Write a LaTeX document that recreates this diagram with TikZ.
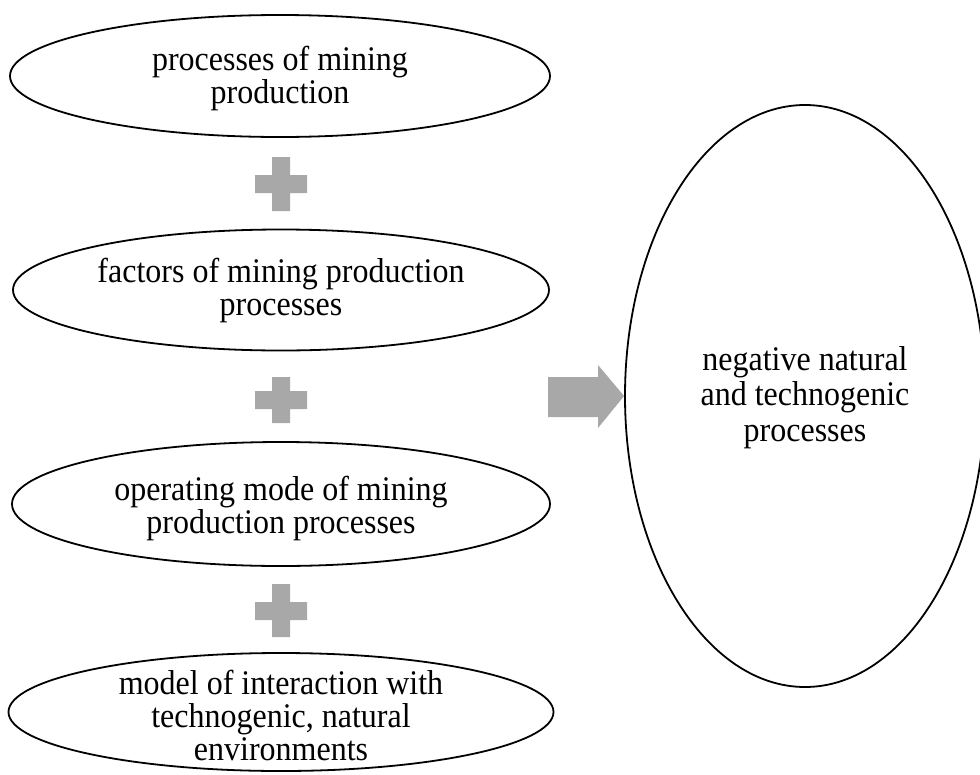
\documentclass[tikz,border=0pt]{standalone}
\usepackage{fontspec}
\usepackage{graphicx}
\setmainfont{Liberation Serif}
\usetikzlibrary{shapes.geometric}
\definecolor{plusgray}{RGB}{168,168,168}
\newcommand\mylines[1]{\scalebox{1}[1.08]{\vtop{\lineskiplimit=-100pt\halign{\hfil##\hfil\cr#1\crcr}}}}
\begin{document}
\begin{tikzpicture}[x=1pt,y=-1pt,
  oval/.style={draw, ellipse, line width=1.8pt, inner sep=0pt},
  lbl/.style={anchor=base, inner sep=0pt, font=\fontsize{32}{31}\selectfont},
  biglbl/.style={anchor=base, inner sep=0pt, font=\fontsize{32}{33}\selectfont},
  plussign/.style={fill=plusgray, draw=none}]
\useasboundingbox (0,0) rectangle (980,774);
% ellipses
\node[oval, minimum width=540pt, minimum height=122pt] (e1) at (280,76) {};
\node[oval, minimum width=536pt, minimum height=121pt] (e2) at (281,290) {};
\node[oval, minimum width=538pt, minimum height=124pt] (e3) at (281,504) {};
\node[oval, minimum width=545pt, minimum height=118pt] (e4) at (281,712) {};
\node[oval, minimum width=360pt, minimum height=582pt] (e5) at (805,396) {};
% texts
\node[lbl] (t1) at (280,70) {\mylines{processes of mining\cr production}};
\node[lbl] (t2) at (281,282) {\mylines{factors of mining production\cr processes}};
\node[lbl] (t3) at (281,500) {\mylines{operating mode of mining\cr production processes}};
\node[lbl] (t4) at (281,694) {\mylines{model of interaction with\cr technogenic, natural\cr environments}};
\node[biglbl] (t5) at (805,370) {\mylines{negative natural\cr and technogenic\cr processes}};
% plus signs
\fill[plussign] (272,157) -- ++(18,0) -- ++(0,18) -- ++(17,0) -- ++(0,18) -- ++(-17,0) -- ++(0,18) -- ++(-18,0) -- ++(0,-18) -- ++(-17,0) -- ++(0,-18) -- ++(17,0) -- cycle;
\fill[plussign] (272,377) -- ++(18,0) -- ++(0,14) -- ++(17,0) -- ++(0,18) -- ++(-17,0) -- ++(0,14) -- ++(-18,0) -- ++(0,-14) -- ++(-17,0) -- ++(0,-18) -- ++(17,0) -- cycle;
\fill[plussign] (272,584) -- ++(18,0) -- ++(0,18) -- ++(17,0) -- ++(0,18) -- ++(-17,0) -- ++(0,17) -- ++(-18,0) -- ++(0,-17) -- ++(-17,0) -- ++(0,-18) -- ++(17,0) -- cycle;
% block arrow
\fill[plussign] (548,377) -- (598,377) -- (598,365) -- (e5.west) -- (598,428) -- (598,417) -- (548,417) -- cycle;
\end{tikzpicture}
\end{document}
